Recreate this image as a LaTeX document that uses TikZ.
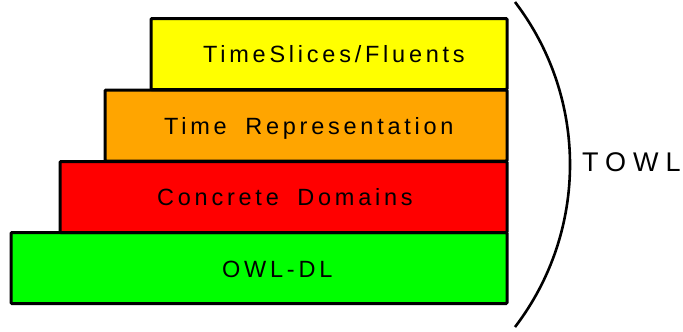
\documentclass[tikz,border=0pt]{standalone}
\usepackage{fontspec}
\setmainfont{Liberation Sans}
\newfontfamily\layerfont[LetterSpace=16,WordSpace=1.8]{Liberation Sans}
\newfontfamily\towlfont[LetterSpace=26]{Liberation Sans}
\definecolor{layeryellow}{HTML}{FFFF00}
\definecolor{layerorange}{HTML}{FFA500}
\definecolor{layerred}{HTML}{FF0000}
\definecolor{layergreen}{HTML}{00FF00}
\begin{document}
\begin{tikzpicture}[x=1pt,y=-1pt,
  layer/.style={draw=black, line width=3pt, rounded corners=1pt, rectangle,
    inner sep=0pt, minimum height=71pt},
  layertext/.style={anchor=base west, inner sep=0pt,
    font=\layerfont\fontsize{23.5}{28}\selectfont}]
\useasboundingbox (0,0) rectangle (683,332);
% the four stacked layers, bottom one widest
\node[layer, fill=layergreen,  minimum width=496pt] (owl)   at (259,268) {};
\node[layer, fill=layerred,    minimum width=447pt] (cd)    at (283.5,197) {};
\node[layer, fill=layerorange, minimum width=402pt] (timer) at (306,125.5) {};
\node[layer, fill=layeryellow, minimum width=356pt] (ts)    at (329,54) {};
% layer captions
\node[layertext] (tstext)  at (203,62)  {TimeSlices/Fluents};
\node[layertext] (trtext)  at (164,134) {Time Representation};
\node[layertext] (cdtext)  at (157,205.5) {Concrete Domains};
\node[layertext] (owltext) at (222,277) {OWL-DL};
% bracket arc grouping the layers
\coordinate (arctop) at (515,2);
\draw[line width=2.6pt] (arctop) arc[start angle=-37.4, end angle=37.4, radius=267.6];
\node[anchor=base west, inner sep=0pt, font=\towlfont\fontsize{27}{32}\selectfont] (towl) at (582,171) {TOWL};
\end{tikzpicture}
\end{document}
